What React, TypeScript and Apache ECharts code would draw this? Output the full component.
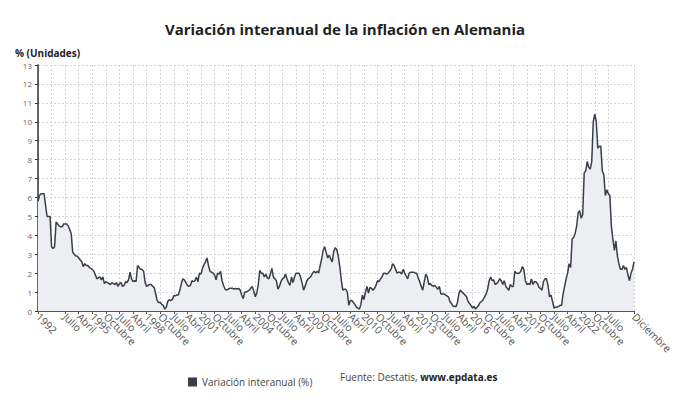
import React, { useEffect, useRef } from "react";
import * as echarts from "echarts";

const years = Array.from({ length: 33 }, (_, k) => 1992 + k);
const monthNames = ["Enero", "Febrero", "Marzo", "Abril", "Mayo", "Junio", "Julio", "Agosto", "Septiembre", "Octubre", "Noviembre", "Diciembre"];

const y1992 = [5.8, 6.1, 6.2, 6.2, 6.2, 5.6, 5.0, 5.0, 5.0, 3.4, 3.3, 3.4];
const y1993 = [4.7, 4.6, 4.5, 4.45, 4.45, 4.6, 4.6, 4.6, 4.5, 4.3, 4.1, 3.1];
const y1994 = [3.0, 2.9, 2.9, 2.8, 2.7, 2.6, 2.35, 2.5, 2.4, 2.4, 2.3, 2.25];
const y1995 = [2.2, 2.1, 1.9, 1.7, 1.75, 1.8, 1.65, 1.8, 1.45, 1.55, 1.5, 1.45];
const y1996 = [1.4, 1.5, 1.45, 1.4, 1.5, 1.3, 1.45, 1.5, 1.3, 1.35, 1.55, 1.5];
const y1997 = [1.65, 2.05, 1.7, 1.55, 1.6, 1.55, 2.4, 2.3, 2.2, 2.2, 2.1, 1.5];
const y1998 = [1.3, 1.35, 1.4, 1.4, 1.3, 1.25, 0.9, 0.55, 0.45, 0.45, 0.35, 0.3];
const y1999 = [0.1, 0.2, 0.5, 0.6, 0.55, 0.6, 0.8, 0.8, 0.85, 0.85, 1.1, 1.45];
const y2000 = [1.7, 1.65, 1.5, 1.35, 1.3, 1.35, 1.6, 1.55, 1.6, 1.8, 1.55, 2.0];
const y2001 = [1.95, 2.25, 2.45, 2.6, 2.8, 2.4, 2.1, 2.05, 2.0, 1.9, 1.65, 2.0];
const y2002 = [1.95, 2.1, 1.6, 1.35, 1.15, 1.1, 1.15, 1.2, 1.2, 1.2, 1.15, 1.2];
const y2003 = [1.15, 1.2, 1.1, 0.85, 0.65, 1.0, 1.0, 1.05, 1.1, 1.2, 1.3, 1.05];
const y2004 = [0.75, 0.95, 1.4, 2.15, 2.0, 2.0, 1.8, 1.95, 1.75, 1.7, 1.95, 2.25];
const y2005 = [1.8, 1.7, 1.6, 1.15, 1.3, 1.55, 1.7, 1.75, 1.95, 1.7, 1.5, 1.35];
const y2006 = [1.8, 1.5, 1.8, 2.0, 2.0, 2.0, 1.8, 1.5, 1.1, 1.3, 1.55, 1.7];
const y2007 = [1.75, 1.85, 2.0, 2.1, 2.0, 2.1, 2.0, 2.4, 2.75, 3.2, 3.4, 3.1];
const y2008 = [2.8, 2.95, 2.75, 2.6, 3.15, 3.35, 3.25, 2.9, 2.35, 1.65, 1.1, 1.15];
const y2009 = [1.15, 1.0, 0.3, 0.55, 0.55, 0.45, 0.35, 0.2, 0.15, 0.1, 0.35, 0.85];
const y2010 = [0.6, 1.0, 1.3, 0.95, 1.25, 1.2, 1.1, 1.2, 1.35, 1.6, 1.55, 1.7];
const y2011 = [1.8, 2.0, 2.0, 1.95, 2.0, 2.1, 2.2, 2.5, 2.4, 2.2, 2.0, 2.05];
const y2012 = [2.05, 1.95, 2.2, 2.0, 1.85, 1.7, 2.0, 2.05, 2.05, 2.05, 2.0, 2.0];
const y2013 = [1.75, 1.55, 1.3, 1.1, 1.55, 1.95, 1.8, 1.4, 1.45, 1.35, 1.3, 1.35];
const y2014 = [1.25, 1.15, 1.3, 0.9, 0.9, 0.9, 0.85, 0.8, 0.75, 0.5, 0.4, 0.25];
const y2015 = [0.25, 0.23, 0.45, 0.95, 1.1, 1.0, 0.93, 0.85, 0.75, 0.5, 0.4, 0.28];
const y2016 = [0.15, 0.25, 0.1, 0.2, 0.3, 0.45, 0.5, 0.6, 0.75, 0.9, 1.15, 1.6];
const y2017 = [1.8, 1.6, 1.65, 1.4, 1.45, 1.55, 1.7, 1.6, 1.4, 1.6, 1.3, 1.2];
const y2018 = [1.1, 1.4, 1.3, 1.3, 2.1, 2.0, 2.0, 2.0, 2.1, 2.35, 2.2, 1.6];
const y2019 = [1.4, 1.45, 1.4, 1.7, 1.4, 1.55, 1.55, 1.45, 1.25, 1.2, 1.1, 1.55];
const y2020 = [1.7, 1.7, 1.35, 0.75, 0.85, 0.5, 0.15, 0.2, 0.2, 0.25, 0.3, 0.3];
const y2021 = [0.9, 1.3, 1.7, 2.0, 2.5, 2.3, 3.8, 3.9, 4.1, 4.5, 5.2, 5.3];
const y2022 = [4.9, 5.1, 7.3, 7.4, 7.9, 7.6, 7.5, 7.9, 10.0, 10.4, 10.0, 8.6];
const y2023 = [8.7, 8.7, 7.4, 7.2, 6.1, 6.4, 6.2, 6.1, 4.5, 3.8, 3.2, 3.7];
const y2024 = [2.9, 2.5, 2.2, 2.2, 2.4, 2.2, 2.3, 1.9, 1.6, 2.0, 2.2, 2.6];

const yearRows = [
  y1992, y1993, y1994, y1995, y1996, y1997, y1998, y1999, y2000, y2001, y2002,
  y2003, y2004, y2005, y2006, y2007, y2008, y2009, y2010, y2011, y2012, y2013,
  y2014, y2015, y2016, y2017, y2018, y2019, y2020, y2021, y2022, y2023, y2024,
];

const categories: string[] = [];
years.forEach((yr) => monthNames.forEach((m, mi) => categories.push(mi === 0 ? String(yr) : m)));
const values: number[] = yearRows.flat();

const seriesName = "Variación interanual (%)";
const yTicks = { min: 0, max: 13, interval: 1 };

const LAST = categories.length - 1;
const showIdx = (i: number) => (i % 9 === 0 && LAST - i > 9) || i === LAST;

export default function App() {
  const ref = useRef<HTMLDivElement>(null);
  useEffect(() => {
    if (!ref.current) return;
    const chart = echarts.init(ref.current, null, { renderer: "svg" });
    const font = "'Open Sans', 'Noto Sans', sans-serif";
    chart.setOption({
      animation: false,
      backgroundColor: "#ffffff",
      textStyle: { fontFamily: font },
      title: {
        text: "Variación interanual de la inflación en Alemania",
        left: "center",
        top: 16,
        textStyle: { fontFamily: font, fontSize: 15, fontWeight: "bold", color: "#1f1f1f" },
      },
      legend: {
        data: [{ name: seriesName, icon: "rect" }],
        left: 183,
        top: 372,
        itemWidth: 9,
        itemHeight: 9,
        itemGap: 4,
        textStyle: { fontFamily: font, fontSize: 10, color: "#444" },
      },
      graphic: [
        {
          type: "text",
          left: 15,
          top: 48,
          style: { text: "% (Unidades)", fontFamily: font, fontSize: 10, fontWeight: "bold", fill: "#222" },
        },
        {
          type: "text",
          left: 340,
          top: 372,
          style: {
            text: "{a|Fuente: Destatis, }{b|www.epdata.es}",
            rich: {
              a: { fontFamily: font, fontSize: 10, fill: "#444", color: "#444" },
              b: { fontFamily: font, fontSize: 10, fontWeight: "bold", fill: "#222", color: "#222" },
            },
          },
        },
      ],
      grid: { left: 38, right: 56, top: 65, bottom: 94, containLabel: false },
      xAxis: {
        type: "category",
        data: categories,
        boundaryGap: false,
        axisLine: { show: true, lineStyle: { color: "#555", width: 1 } },
        axisTick: { show: true, interval: (i: number) => showIdx(i), length: 3, lineStyle: { color: "#555" } },
        axisLabel: {
          interval: (i: number) => showIdx(i),
          rotate: -45,
          fontSize: 10.5,
          color: "#555",
          fontFamily: font,
          margin: 4,
          hideOverlap: false,
          showMinLabel: true,
          showMaxLabel: true,
        },
        splitLine: {
          show: true,
          interval: (i: number) => showIdx(i),
          lineStyle: { color: "#d4d4d8", type: [2, 2], width: 1 },
        },
      },
      yAxis: {
        type: "value",
        min: yTicks.min,
        max: yTicks.max,
        interval: yTicks.interval,
        axisLine: { show: true, lineStyle: { color: "#333", width: 1.5 } },
        axisTick: { show: true, length: 3, lineStyle: { color: "#333" } },
        axisLabel: { fontSize: 8, color: "#666", fontFamily: font, margin: 6 },
        splitLine: { show: true, lineStyle: { color: "#d4d4d8", type: [2, 2], width: 1 } },
      },
      series: [
        {
          name: seriesName,
          type: "line",
          data: values,
          symbol: "none",
          color: "#3a3f47",
          lineStyle: { color: "#3a3f47", width: 1.5 },
          areaStyle: { color: "#eceef2", opacity: 1 },
        },
      ],
    });
    return () => chart.dispose();
  }, []);
  return <div ref={ref} style={{ width: 690, height: 405, position: "absolute", left: 0, top: 0 }} />;
}
